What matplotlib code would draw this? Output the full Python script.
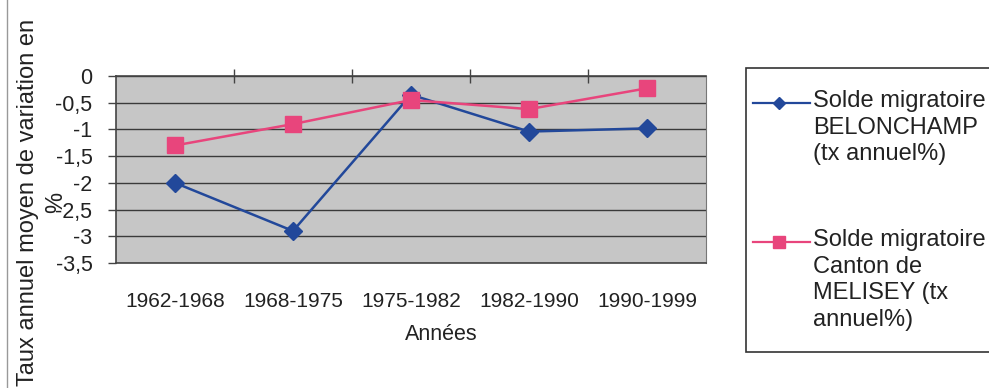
import matplotlib
matplotlib.use("Agg")
import matplotlib.pyplot as plt
from matplotlib.lines import Line2D
from matplotlib.patches import Rectangle
from matplotlib.ticker import FixedLocator, FuncFormatter

plt.rcParams["font.family"] = ["Liberation Sans", "DejaVu Sans"]

periodes = ["1962-1968", "1968-1975", "1975-1982", "1982-1990", "1990-1999"]
belonchamp = [-2.0, -2.9, -0.35, -1.04, -0.98]
melisey = [-1.3, -0.9, -0.45, -0.62, -0.23]

label_belonchamp = "Solde migratoire\nBELONCHAMP\n(tx annuel%)"
label_melisey = "Solde migratoire\nCanton de\nMELISEY (tx\nannuel%)"

BLUE = "#22489a"
PINK = "#e8457c"

W, H = 989, 388
fig = plt.figure(figsize=(W / 100, H / 100), dpi=100)
ax = fig.add_axes([116 / W, 1 - 263 / H, 590 / W, 187 / H])
ax.set_facecolor("#c6c6c6")

x = range(len(periodes))
ax.plot(x, belonchamp, color=BLUE, lw=1.8, marker="D", ms=9, zorder=3)
ax.plot(x, melisey, color=PINK, lw=1.8, marker="s", ms=11, zorder=4)

ax.set_xlim(-0.5, len(periodes) - 0.5)
ax.set_ylim(-3.5, 0)
ax.yaxis.set_major_locator(FixedLocator([-3.5 + 0.5 * i for i in range(8)]))
ax.yaxis.set_major_formatter(FuncFormatter(lambda v, _: f"{v:g}".replace(".", ",")))
ax.grid(axis="y", color="#3a3a3a", lw=1.0)
ax.set_axisbelow(True)

# category labels below, boundary ticks on the zero line at the top
ax.set_xticks(list(x))
ax.set_xticklabels(periodes)
ax.set_xticks([i + 0.5 for i in range(len(periodes) - 1)], minor=True)
ax.tick_params(axis="x", which="major", length=0, pad=21, labelsize=15, labelcolor="#222222")
ax.tick_params(axis="x", which="minor", bottom=False, top=True, direction="inout",
               length=10, width=1, color="#444444")
ax.tick_params(axis="y", direction="out", length=6, width=1, color="#444444",
               pad=11, labelsize=15.5, labelcolor="#222222")

for side in ["left", "top", "bottom"]:
    ax.spines[side].set_color("#444444")
    ax.spines[side].set_linewidth(1.2)
ax.spines["right"].set_color("#777777")

fig.text(441 / W, 1 - 335 / H, "Années", ha="center", va="center",
         fontsize=15.5, color="#222222")
# long axis title wraps onto a second line and runs past the figure edges
fig.text(42 / W, 1 - 202 / H, "Taux annuel moyen de variation en\n%", rotation=90,
         ha="center", va="center", multialignment="center", fontsize=17,
         linespacing=1.4, color="#222222")

# chart frame edge and legend box
fig.add_artist(Line2D([7 / W, 7 / W], [0, 1], color="#999999", lw=1))
fig.add_artist(Rectangle((746 / W, 1 - 352 / H), 260 / W, 284 / H, facecolor="white",
                         edgecolor="#333333", lw=1.2, transform=fig.transFigure))

entries = [
    (BLUE, "D", 6.5, label_belonchamp, 103),
    (PINK, "s", 8, label_melisey, 242),
]
for color, marker, ms, label, yline in entries:
    yf = 1 - yline / H
    fig.add_artist(Line2D([753 / W, 810 / W], [yf, yf], color=color, lw=1.6))
    fig.add_artist(Line2D([779 / W], [yf], color=color, marker=marker, ms=ms, lw=0))
    fig.text(813 / W, 1 - (yline - 13) / H, label, ha="left", va="top", fontsize=17,
             color="#222222", linespacing=1.27)

fig.savefig("out.png", dpi=100)
